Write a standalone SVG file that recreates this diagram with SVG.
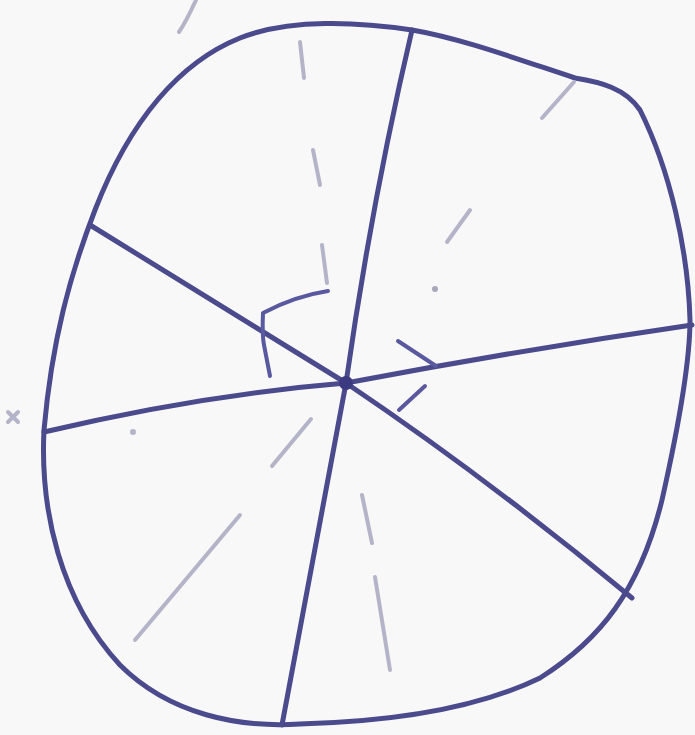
<svg xmlns="http://www.w3.org/2000/svg" width="695" height="735" viewBox="0 0 695 735">
<style>
.ink{fill:none;stroke:#4b4a8c;stroke-width:5;stroke-linecap:round;stroke-linejoin:round}
.thin{fill:none;stroke:#5a59a0;stroke-width:4;stroke-linecap:round;stroke-linejoin:round}
.faint{fill:none;stroke:#b4b4c8;stroke-width:4;stroke-linecap:round}
</style>
<rect width="695" height="735" fill="#f8f8f8"/>
<path class="faint" d="M196,0 Q186,22 179,32" stroke="#9a9bd0" stroke-width="6"/>
<g id="outline">
<path class="ink" d="M412,30 C360,22 290,18 240,38 C180,62 130,120 95,210 C70,275 52,340 44,430 C40,510 60,600 120,665 C170,715 240,728 300,724 C380,722 470,712 540,678 C600,640 640,590 662,500 C680,420 690,360 690,320 C688,250 670,170 640,110 C625,88 600,82 575,78 C520,60 460,38 412,30 Z"/>
</g>
<g id="connectors">
<path class="ink" d="M412,30 Q372,200 346,383"/>
<path class="ink" d="M346,383 Q315,550 282,725"/>
<path class="ink" d="M90,225 Q220,305 346,383"/>
<path class="ink" d="M346,383 Q490,480 632,598"/>
<path class="ink" d="M44,432 Q200,395 346,383"/>
<path class="ink" d="M346,383 Q520,350 692,325"/>
<circle cx="346" cy="383" r="7" fill="#3c3b82"/>
</g>
<g id="angle-marks">
<path class="thin" d="M328,291 Q295,296 263,313 Q262,335 264,345 L270,376"/>
<path class="thin" d="M398,341 L436,366"/>
<path class="thin" d="M425,386 L399,410"/>
</g>
<g id="dashes">
<path class="faint" d="M300,42 L304,78"/>
<path class="faint" d="M313,150 L320,185"/>
<path class="faint" d="M322,245 L327,283"/>
<path class="faint" d="M574,82 L542,118"/>
<path class="faint" d="M470,210 L447,242"/>
<circle cx="435" cy="289" r="3" fill="#a8a8bd"/>
<path class="faint" d="M311,419 L272,466"/>
<path class="faint" d="M240,515 L135,640"/>
<path class="faint" d="M362,495 L372,543"/>
<path class="faint" d="M375,577 L390,670"/>
<circle cx="133" cy="432" r="3" fill="#b4b4c8"/>
<path class="faint" d="M8,412 L18,422 M18,412 L8,422" stroke-width="2"/>
</g>
</svg>
